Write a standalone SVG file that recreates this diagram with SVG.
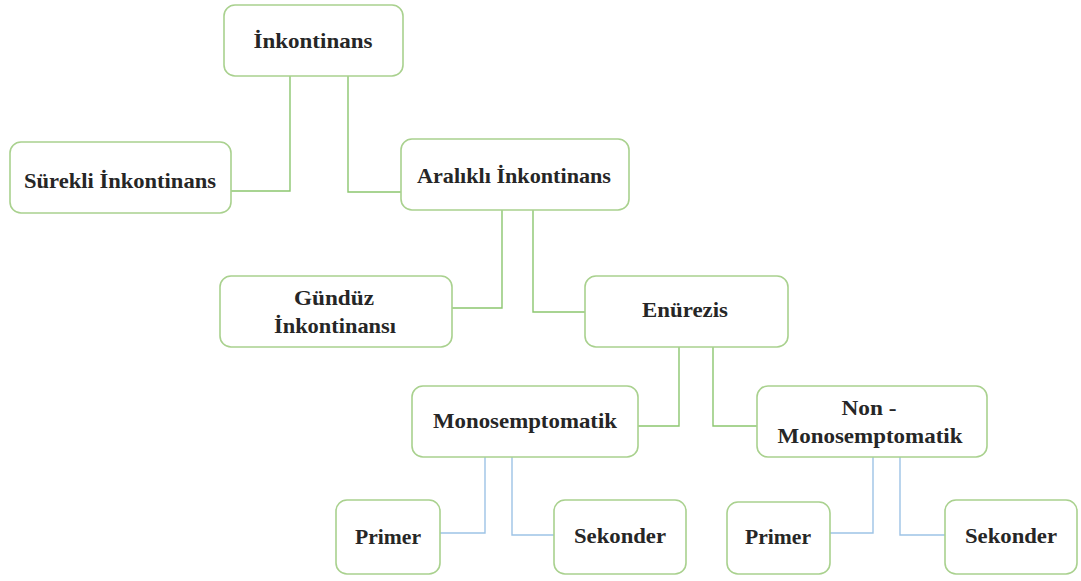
<svg xmlns="http://www.w3.org/2000/svg" width="1081" height="581" viewBox="0 0 1081 581">
<style>
.box{fill:#ffffff;stroke:#a9d18e;stroke-width:1.6}
.t{font-family:"Liberation Serif","Times New Roman",serif;font-weight:bold;font-size:21px;fill:#262626;text-anchor:middle}
.g{fill:none;stroke:#8cc66f;stroke-width:1.4}
.b{fill:none;stroke:#9dc3e6;stroke-width:1.4}
</style>
<rect width="1081" height="581" fill="#ffffff"/>
<g id="connectors">
<path class="g" d="M290 76 V191 H231"/>
<path class="g" d="M348 76 V192 H401"/>
<path class="g" d="M502 210 V308 H452"/>
<path class="g" d="M533 210 V312 H585"/>
<path class="g" d="M679 347 V426 H638"/>
<path class="g" d="M713 347 V426 H757"/>
<path class="b" d="M485 457 V533 H440"/>
<path class="b" d="M512 457 V535 H554"/>
<path class="b" d="M873 457 V533 H830"/>
<path class="b" d="M900 457 V535 H945"/>
</g>
<g id="n-inkontinans">
<rect class="box" x="224" y="5" width="179" height="71" rx="11"/>
<text class="t" x="313" y="48" textLength="119" lengthAdjust="spacingAndGlyphs">İnkontinans</text>
</g>
<g id="n-surekli">
<rect class="box" x="10" y="142" width="221" height="71" rx="11"/>
<text class="t" x="120" y="188" textLength="192" lengthAdjust="spacingAndGlyphs">Sürekli İnkontinans</text>
</g>
<g id="n-aralikli">
<rect class="box" x="401" y="139" width="228" height="71" rx="11"/>
<text class="t" x="514" y="183" textLength="194" lengthAdjust="spacingAndGlyphs">Aralıklı İnkontinans</text>
</g>
<g id="n-gunduz">
<rect class="box" x="220" y="276" width="232" height="71" rx="11"/>
<text class="t" x="334" y="305" textLength="80" lengthAdjust="spacingAndGlyphs">Gündüz</text>
<text class="t" x="335" y="333" textLength="122" lengthAdjust="spacingAndGlyphs">İnkontinansı</text>
</g>
<g id="n-enurezis">
<rect class="box" x="585" y="276" width="203" height="71" rx="11"/>
<text class="t" x="685" y="317" textLength="86" lengthAdjust="spacingAndGlyphs">Enürezis</text>
</g>
<g id="n-mono">
<rect class="box" x="412" y="386" width="226" height="71" rx="11"/>
<text class="t" x="525" y="428" textLength="184" lengthAdjust="spacingAndGlyphs">Monosemptomatik</text>
</g>
<g id="n-nonmono">
<rect class="box" x="757" y="386" width="230" height="71" rx="11"/>
<text class="t" x="869" y="415" textLength="55" lengthAdjust="spacingAndGlyphs">Non -</text>
<text class="t" x="870" y="443" textLength="185" lengthAdjust="spacingAndGlyphs">Monosemptomatik</text>
</g>
<g id="n-primer1">
<rect class="box" x="336" y="500" width="104" height="74" rx="11"/>
<text class="t" x="388" y="544" textLength="66" lengthAdjust="spacingAndGlyphs">Primer</text>
</g>
<g id="n-sekonder1">
<rect class="box" x="554" y="500" width="132" height="74" rx="11"/>
<text class="t" x="620" y="543" textLength="92" lengthAdjust="spacingAndGlyphs">Sekonder</text>
</g>
<g id="n-primer2">
<rect class="box" x="727" y="502" width="103" height="72" rx="11"/>
<text class="t" x="778" y="544" textLength="66" lengthAdjust="spacingAndGlyphs">Primer</text>
</g>
<g id="n-sekonder2">
<rect class="box" x="945" y="500" width="132" height="74" rx="11"/>
<text class="t" x="1011" y="543" textLength="92" lengthAdjust="spacingAndGlyphs">Sekonder</text>
</g>
</svg>
